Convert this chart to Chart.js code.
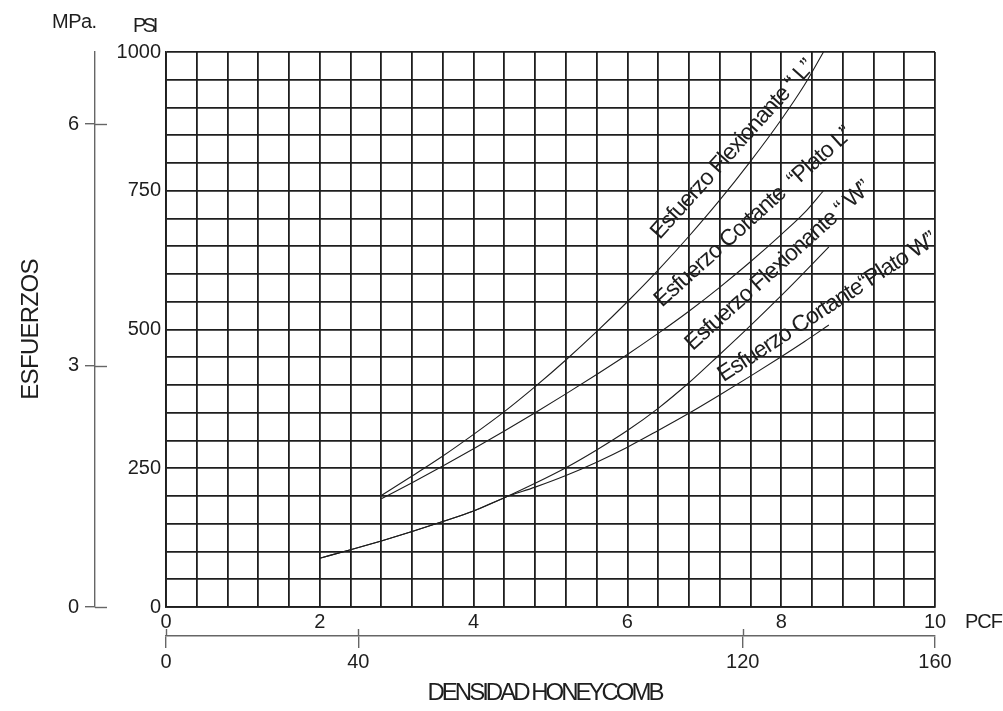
<!DOCTYPE html>
<html>
<head>
<meta charset="utf-8">
<script src="https://cdn.jsdelivr.net/npm/chart.js@4.4.1/dist/chart.umd.min.js"></script>
<style>
  html, body { margin: 0; padding: 0; background: #fff; }
  #wrap { width: 1003px; height: 711px; }
</style>
</head>
<body>
<div id="wrap"><canvas id="chart" width="1003" height="711"></canvas></div>
<script>
// =====================================================
// DATA
// =====================================================
const densidadL    = [2.8, 3.2, 3.6, 4.0, 4.4, 4.8, 5.2, 5.6, 6.0, 6.4, 6.8, 7.2, 7.6, 8.0, 8.3, 8.55];
const flexionanteL = [201, 236, 272, 311, 352, 397, 445, 496, 550, 607, 668, 733, 803, 878, 940, 1000];
const cortanteL    = [195, 224, 254, 285, 317, 350, 384, 419, 455, 493, 533, 576, 622, 671, 710, 750];

const densidadW    = [2.0, 2.4, 2.8, 3.2, 3.6, 4.0, 4.4, 4.8, 5.2, 5.6, 6.0, 6.4, 6.8, 7.2, 7.6, 8.0, 8.3, 8.62];
const flexionanteW = [88, 103, 119, 136, 154, 173, 197, 223, 251, 283, 318, 358, 404, 455, 507, 561, 603, 649];
const cortanteW    = [88, 103, 119, 136, 154, 173, 197, 216, 237, 261, 288, 318, 349, 382, 416, 451, 478, 508];

const pcfTickLabels = [0, 2, 4, 6, 8, 10];
const psiTickLabels = [0, 250, 500, 750, 1000];
const mpaTicks = [0, 3, 6];
const kgTicks = [0, 40, 120, 160];

const curveNames = [
    'Esfuerzo Flexionante \u201C L\u201D',
    'Esfuerzo Cortante  \u201CPlato L\u201D',
    'Esfuerzo Flexionante \u201C W\u201D',
    'Esfuerzo Cortante\u201CPlato W\u201D'
];

const PSI_PER_MPA = 145.038;

// label anchors in data units (PCF, PSI) and angle in degrees
const labelPlacement = [
    { x: 6.42, y: 661, angle: 48 },
    { x: 6.45, y: 539, angle: 42 },
    { x: 6.85, y: 461, angle: 42 },
    { x: 7.25, y: 405, angle: 33 }
];

const FONT = "'Liberation Sans', Arial, sans-serif";
const INK = '#1e1e1e';
const GREY = '#666';

function pts(xs, ys) { return xs.map((x, i) => ({ x: x, y: ys[i] })); }

// =====================================================
// PLUGINS: axis tick extensions + free text
// =====================================================
const extraTicks = {
    id: 'extraTicks',
    afterDraw(chart) {
        const ctx = chart.ctx;
        const mpa = chart.scales.mpa, kg = chart.scales.kg;
        ctx.save();
        ctx.strokeStyle = GREY;
        ctx.lineWidth = 1.4;
        mpa.ticks.forEach(t => {
            const y = Math.round(mpa.getPixelForValue(t.value)) + 0.5;
            ctx.beginPath(); ctx.moveTo(mpa.right, y); ctx.lineTo(mpa.right + 12, y); ctx.stroke();
        });
        kg.ticks.forEach((t, i) => {
            if (i === kg.ticks.length - 1) return;
            const x = Math.round(kg.getPixelForValue(t.value)) + 0.5;
            ctx.beginPath(); ctx.moveTo(x, kg.top); ctx.lineTo(x, kg.top - 7); ctx.stroke();
        });
        ctx.restore();
    }
};

function spacedText(ctx, text, x, y, spacing) {
    if ('letterSpacing' in ctx) ctx.letterSpacing = spacing + 'px';
    ctx.fillText(text, x, y);
    if ('letterSpacing' in ctx) ctx.letterSpacing = '0px';
}

const textLayer = {
    id: 'textLayer',
    afterDraw(chart) {
        const ctx = chart.ctx;
        const area = chart.chartArea;
        const xs = chart.scales.x, ys = chart.scales.y;
        ctx.save();
        ctx.fillStyle = INK;

        // curve labels
        ctx.font = '23px ' + FONT;
        ctx.textAlign = 'left';
        ctx.textBaseline = 'alphabetic';
        labelPlacement.forEach((p, i) => {
            ctx.save();
            ctx.translate(xs.getPixelForValue(p.x), ys.getPixelForValue(p.y));
            ctx.rotate(-p.angle * Math.PI / 180);
            spacedText(ctx, curveNames[i], 0, 0, -1);
            ctx.restore();
        });

        // unit labels
        ctx.textBaseline = 'middle';
        ctx.font = '20px ' + FONT;
        ctx.textAlign = 'left';
        spacedText(ctx, 'MPa.', 52, 22, -0.5);
        spacedText(ctx, 'PSI', area.left - 33, 26, -3.5);
        spacedText(ctx, 'PCF', area.right + 30, 622, -1);

        // axis titles
        ctx.font = '24px ' + FONT;
        ctx.textAlign = 'center';
        spacedText(ctx, 'DENSIDAD HONEYCOMB', (area.left + area.right) / 2 - 6, 693, -3);

        ctx.save();
        ctx.translate(31, (area.top + area.bottom) / 2);
        ctx.rotate(-Math.PI / 2);
        spacedText(ctx, 'ESFUERZOS', 0, 0, -0.7);
        ctx.restore();

        ctx.restore();
    }
};

// =====================================================
// CHART
// =====================================================
const lineStyle = {
    borderColor: INK,
    borderWidth: 1.1,
    pointRadius: 0,
    fill: false,
    cubicInterpolationMode: 'monotone'
};

new Chart(document.getElementById('chart'), {
    type: 'line',
    data: {
        datasets: [
            { label: curveNames[0], data: pts(densidadL, flexionanteL), ...lineStyle },
            { label: curveNames[1], data: pts(densidadL, cortanteL), ...lineStyle },
            { label: curveNames[2], data: pts(densidadW, flexionanteW), ...lineStyle },
            { label: curveNames[3], data: pts(densidadW, cortanteW), ...lineStyle }
        ]
    },
    options: {
        responsive: false,
        animation: false,
        devicePixelRatio: 1,
        layout: { padding: { top: 52, left: 0, right: 68, bottom: 35 } },
        plugins: { legend: { display: false }, tooltip: { enabled: false } },
        scales: {
            x: {
                type: 'linear', position: 'bottom', weight: 0,
                min: 0, max: 10,
                afterFit(s) { s.height = 29; },
                grid: { color: INK, lineWidth: 1.8, drawTicks: false },
                border: { color: INK, width: 1.8 },
                ticks: {
                    stepSize: 0.4, autoSkip: false, maxRotation: 0, padding: 3,
                    color: INK, font: { family: FONT, size: 20 },
                    callback: v => pcfTickLabels.includes(v) ? String(v) : ''
                }
            },
            kg: {
                type: 'linear', position: 'bottom', weight: 1,
                min: 0, max: 160,
                afterFit(s) { s.height = 40; },
                afterBuildTicks(s) { s.ticks = kgTicks.map(v => ({ value: v })); },
                grid: { drawOnChartArea: false, color: GREY, lineWidth: 1.4, tickLength: 12 },
                border: { color: GREY, width: 1.4 },
                ticks: { autoSkip: false, maxRotation: 0, padding: 2, color: INK, font: { family: FONT, size: 20 } }
            },
            y: {
                type: 'linear', position: 'left', weight: 0,
                min: 0, max: 1000,
                afterFit(s) { s.width = 71; },
                grid: { color: INK, lineWidth: 1.8, drawTicks: false },
                border: { color: INK, width: 1.8 },
                ticks: {
                    stepSize: 50, autoSkip: false, padding: 5,
                    color: INK, font: { family: FONT, size: 20 },
                    callback: v => psiTickLabels.includes(v) ? String(v) : ''
                }
            },
            mpa: {
                type: 'linear', position: 'left', weight: 1,
                min: 0, max: 1000 / PSI_PER_MPA,
                afterFit(s) { s.width = 95; },
                afterBuildTicks(s) { s.ticks = mpaTicks.map(v => ({ value: v })); },
                grid: { drawOnChartArea: false, color: GREY, lineWidth: 1.4, tickLength: 10 },
                border: { color: GREY, width: 1.4 },
                ticks: { autoSkip: false, padding: 6, color: INK, font: { family: FONT, size: 20 } }
            }
        }
    },
    plugins: [extraTicks, textLayer]
});
</script>
</body>
</html>
